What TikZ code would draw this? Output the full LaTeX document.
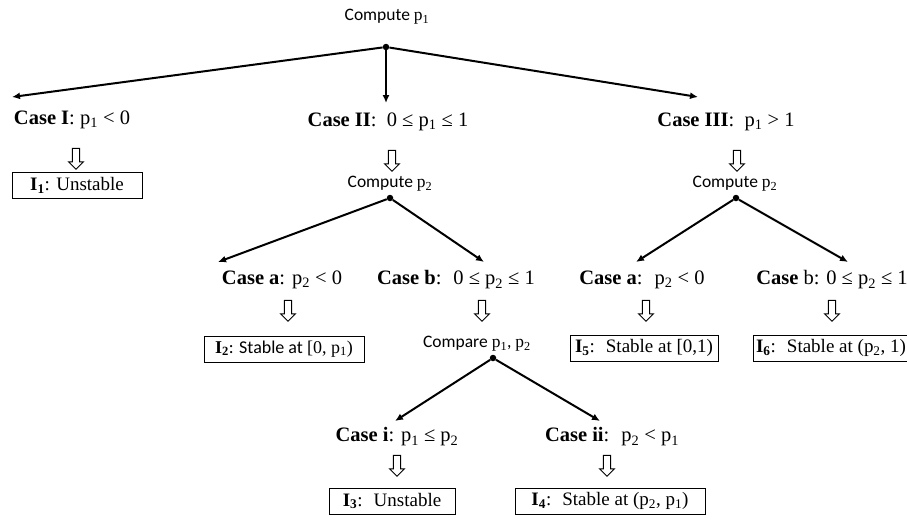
\documentclass[tikz,border=0pt]{standalone}
\usepackage{fontspec}
\setmainfont{Liberation Serif}
\newfontfamily\calib{Carlito}
\usetikzlibrary{arrows.meta,shapes.arrows}
\tikzset{
  lbl/.style={inner sep=1pt,font=\fontsize{20.5}{22}\selectfont},
  cmp/.style={inner sep=1pt,font=\calib\fontsize{17.5}{19}\selectfont},
  res/.style={draw,line width=1pt,inner sep=3pt,minimum height=26pt,font=\fontsize{19}{21}\selectfont},
  hollow/.style={single arrow,draw,fill=white,line width=0.9pt,rotate=-90,inner sep=3.2pt,
    minimum height=21pt,single arrow head extend=3.8pt,single arrow tip angle=90},
  dot/.style={circle,fill=black,inner sep=0pt,minimum size=6.5pt},
  con/.style={line width=2pt,-{Latex[length=8pt,width=7pt]}}
}
\newcommand{\pp}[1]{{\rmfamily p\textsubscript{#1}}}
\newcommand{\II}[1]{\textbf{I\textsubscript{#1}}}
\begin{document}
\begin{tikzpicture}[x=1pt,y=-1pt]
     \useasboundingbox (0,0) rectangle (907,520);
     % top level
     \node[cmp] (c1) at (387,17) {Compute \pp1};
     \node[dot] (d0) at (386,47) {};
     \coordinate (t1) at (12,97); \coordinate (t2) at (386,103); \coordinate (t3) at (698,97);
     \draw[con] (d0) -- (t1); \draw[con] (d0) -- (t2); \draw[con] (d0) -- (t3);
     % case I
     \node[lbl] (cI) at (72,120) {\textbf{Case I}: \pp1 < 0};
     \node[hollow] (hI) at (76,157) {};
     \node[res,minimum width=130pt] (r1) at (77,185) {\II1: Unstable};
     % case II
     \node[lbl] (cII) at (388,122) {\textbf{Case II}: \ 0 ≤ \pp1 ≤ 1};
     \node[hollow] (hII) at (392,159) {};
     \node[cmp] (c2) at (390,184) {Compute \pp2};
     \node[dot] (d2) at (390,198) {};
     \coordinate (t4) at (218,262); \coordinate (t5) at (484,262);
     \draw[con] (d2) -- (t4); \draw[con] (d2) -- (t5);
     \node[lbl] (ca) at (282,280) {\textbf{Case a}: \pp2 < 0};
     \node[hollow] (ha) at (288,309) {};
     \node[res,minimum width=160pt,font=\calib\fontsize{18}{20}\selectfont] (r2) at (284,349) {{\rmfamily\II2}: Stable at {\rmfamily [0, \pp1)}};
     \node[lbl] (cb) at (456,280) {\textbf{Case b}: \ 0 ≤ \pp2 ≤ 1};
     \node[hollow] (hb) at (482,309) {};
     \node[cmp] (cp) at (477,344) {Compare \pp1, \pp2};
     \node[dot] (d3) at (493,358) {};
     \coordinate (t6) at (395,421); \coordinate (t7) at (600,421);
     \draw[con] (d3) -- (t6); \draw[con] (d3) -- (t7);
     \node[lbl] (ci) at (397,437) {\textbf{Case i}: \pp1 ≤ \pp2};
     \node[hollow] (hi) at (397,464) {};
     \node[res,minimum width=126pt] (r3) at (392,501) {\II3: \ Unstable};
     \node[lbl] (cii) at (612,437) {\textbf{Case ii}: \ \pp2 < \pp1};
     \node[hollow] (hii) at (607,464) {};
     \node[res,minimum width=190pt] (r4) at (610,501) {\II4: \ Stable at (\pp2, \pp1)};
     % case III
     \node[lbl] (cIII) at (726,122) {\textbf{Case III}: \ \pp1 > 1};
     \node[hollow] (hIII) at (737,159) {};
     \node[cmp] (c3) at (735,184) {Compute \pp2};
     \node[dot] (d4) at (736,198) {};
     \coordinate (t8) at (636,262); \coordinate (t9) at (848,262);
     \draw[con] (d4) -- (t8); \draw[con] (d4) -- (t9);
     \node[lbl] (ca3) at (642,280) {\textbf{Case a}: \ \pp2 < 0};
     \node[hollow] (ha3) at (646,309) {};
     \node[res,minimum width=148pt] (r5) at (644,348) {\II5: \ Stable at [0,1)};
     \node[lbl] (cb3) at (832,280) {\textbf{Case} b: 0 ≤ \pp2 ≤ 1};
     \node[hollow] (hb3) at (832,309) {};
     \node[res,minimum width=150pt] (r6) at (831,348) {\II6: \ Stable at (\pp2, 1)};
\end{tikzpicture}
\end{document}
